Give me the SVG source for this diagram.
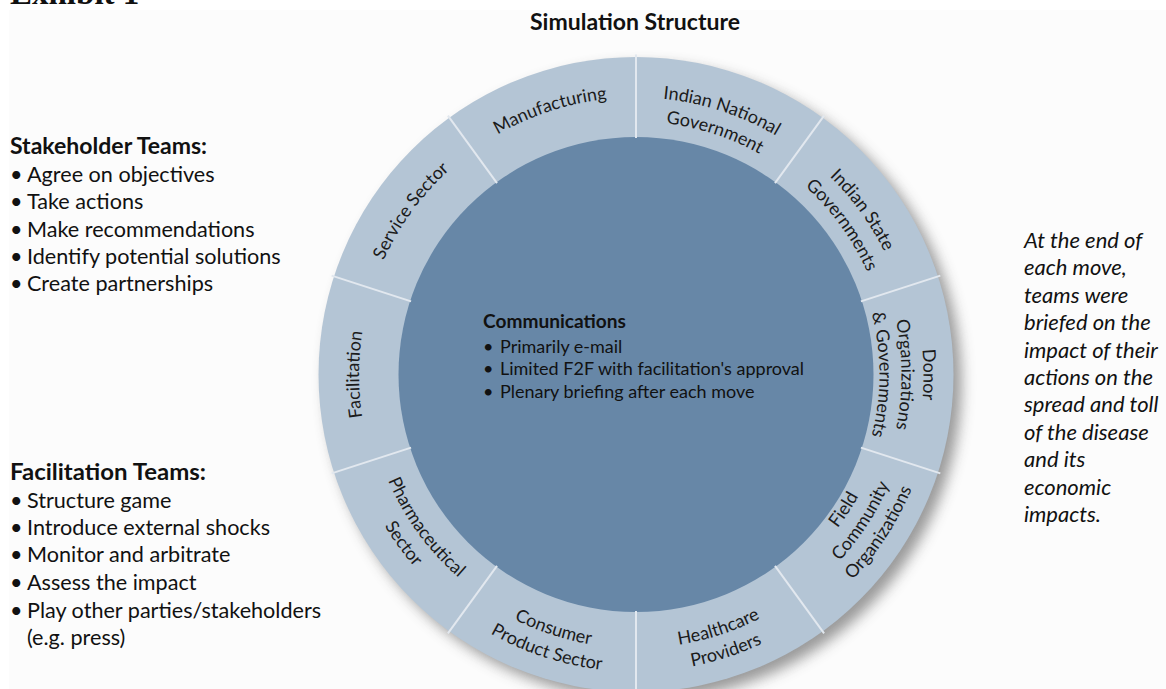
<svg xmlns="http://www.w3.org/2000/svg" width="1166" height="689" viewBox="0 0 1166 689">
  <style>
    .t { font-family: Lato, "Open Sans", "Liberation Sans", sans-serif; fill: #111; }
    .side { font-size: 21.6px; }
    .hd { font-weight: bold; }
    .ring { font-size: 18px; fill: #1b1b1b; }
    .ctr { font-size: 18px; }
    .note { font-style: italic; font-size: 22px; }
    .div { stroke: #e2e8ef; stroke-width: 2; }
    .mid { text-anchor: middle; }
  </style>
  <defs>
    <filter id="soft" x="-20%" y="-20%" width="140%" height="140%">
      <feGaussianBlur stdDeviation="7"/>
    </filter>
    <!-- arcs over the top of the wheel, centred on (0,0): text sits outside the baseline -->
    <path id="up277" d="M -260.3 -94.7 A 277 277 0 0 1 260.3 -94.7"/>
    <path id="up253" d="M -237.7 -86.5 A 253 253 0 0 1 237.7 -86.5"/>
    <path id="up287" d="M -270.2 -98.3 A 287.5 287.5 0 0 1 270.2 -98.3"/>
    <path id="up265" d="M -249.5 -90.8 A 265.5 265.5 0 0 1 249.5 -90.8"/>
    <path id="up243" d="M -228.8 -83.3 A 243.5 243.5 0 0 1 228.8 -83.3"/>
    <!-- arcs under the bottom of the wheel: text faces the centre -->
    <path id="dn269" d="M -253.3 92.2 A 269.5 269.5 0 0 0 253.3 92.2"/>
    <path id="dn293" d="M -275.8 100.4 A 293.5 293.5 0 0 0 275.8 100.4"/>
    <path id="dn273" d="M -257.1 93.6 A 273.6 273.6 0 0 0 257.1 93.6"/>
    <path id="dn297" d="M -279.3 101.6 A 297.2 297.2 0 0 0 279.3 101.6"/>
    <path id="dn253" d="M -238.2 86.7 A 253.5 253.5 0 0 0 238.2 86.7"/>
    <path id="dn276" d="M -259.4 94.4 A 276 276 0 0 0 259.4 94.4"/>
    <path id="dn298" d="M -280.5 102.1 A 298.5 298.5 0 0 0 280.5 102.1"/>
    <line id="spoke" x1="0" y1="-236.5" x2="0" y2="-320"/>
  </defs>

  <rect width="1166" height="689" fill="#ffffff"/>
  <rect x="9" y="10" width="1157" height="679" fill="#fcfcfc"/>

  <text class="hd" x="10" y="4" style="font-family:'Liberation Serif',serif;font-size:33px;fill:#111">Exhibit 1</text>

  <text class="t hd mid" x="635" y="30" style="font-size:23px" textLength="210" lengthAdjust="spacingAndGlyphs">Simulation Structure</text>

  <!-- stakeholder list -->
  <g id="stakeholder-teams" class="t side">
    <text class="hd" x="10" y="154" style="font-size:23px" textLength="197" lengthAdjust="spacingAndGlyphs">Stakeholder Teams:</text>
    <text x="10" y="182">•</text><text x="27" y="182">Agree on objectives</text>
    <text x="10" y="209">•</text><text x="27" y="209">Take actions</text>
    <text x="10" y="236.5">•</text><text x="27" y="236.5">Make recommendations</text>
    <text x="10" y="264">•</text><text x="27" y="264">Identify potential solutions</text>
    <text x="10" y="291">•</text><text x="27" y="291">Create partnerships</text>
  </g>

  <!-- facilitation list -->
  <g id="facilitation-teams" class="t side">
    <text class="hd" x="10" y="480" style="font-size:23px" textLength="196" lengthAdjust="spacingAndGlyphs">Facilitation Teams:</text>
    <text x="10" y="507.7">•</text><text x="27" y="507.7">Structure game</text>
    <text x="10" y="535">•</text><text x="27" y="535">Introduce external shocks</text>
    <text x="10" y="562.3">•</text><text x="27" y="562.3">Monitor and arbitrate</text>
    <text x="10" y="590">•</text><text x="27" y="590">Assess the impact</text>
    <text x="10" y="617.5">•</text><text x="27" y="617.5">Play other parties/stakeholders</text>
    <text x="27" y="644.5">(e.g. press)</text>
  </g>

  <!-- side note -->
  <g id="move-note" class="t note">
    <text x="1024" y="248">At the end of</text>
    <text x="1024" y="275.4">each move,</text>
    <text x="1024" y="302.8">teams were</text>
    <text x="1024" y="330.2">briefed on the</text>
    <text x="1024" y="357.6">impact of their</text>
    <text x="1024" y="385">actions on the</text>
    <text x="1024" y="412.4">spread and toll</text>
    <text x="1024" y="439.8">of the disease</text>
    <text x="1024" y="467.2">and its</text>
    <text x="1024" y="494.6">economic</text>
    <text x="1024" y="522">impacts.</text>
  </g>

  <!-- wheel -->
  <g id="wheel" transform="translate(636 374.5)">
    <circle cx="8" cy="8" r="317.5" fill="#4a4a4a" opacity="0.55" filter="url(#soft)"/>
    <circle id="outer-ring" r="317.5" fill="#b4c5d5"/>
    <circle id="communications-core" r="237.5" fill="#6787a7"/>

    <g id="dividers" class="div">
      <use href="#spoke"/>
      <use href="#spoke" transform="rotate(36)"/>
      <use href="#spoke" transform="rotate(72)"/>
      <use href="#spoke" transform="rotate(108)"/>
      <use href="#spoke" transform="rotate(144)"/>
      <use href="#spoke" transform="rotate(180)"/>
      <use href="#spoke" transform="rotate(216)"/>
      <use href="#spoke" transform="rotate(252)"/>
      <use href="#spoke" transform="rotate(288)"/>
      <use href="#spoke" transform="rotate(324)"/>
    </g>

    <g id="seg-manufacturing" class="t ring" transform="rotate(-18)">
      <text class="mid"><textPath href="#up277" startOffset="50%">Manufacturing</textPath></text>
    </g>
    <g id="seg-national-government" class="t ring" transform="rotate(18)">
      <text class="mid"><textPath href="#up277" startOffset="50%">Indian National</textPath></text>
      <text class="mid"><textPath href="#up253" startOffset="50%">Government</textPath></text>
    </g>
    <g id="seg-state-governments" class="t ring" transform="rotate(54)">
      <text class="mid"><textPath href="#up277" startOffset="50%">Indian State</textPath></text>
      <text class="mid"><textPath href="#up253" startOffset="50%">Governments</textPath></text>
    </g>
    <g id="seg-donors" class="t ring" transform="rotate(90)">
      <text class="mid"><textPath href="#up287" startOffset="50%">Donor</textPath></text>
      <text class="mid"><textPath href="#up265" startOffset="50%">Organizations</textPath></text>
      <text class="mid"><textPath href="#up243" startOffset="50%">&amp; Governments</textPath></text>
    </g>
    <g id="seg-field-community" class="t ring" transform="rotate(-57)">
      <text class="mid"><textPath href="#dn253" startOffset="50%">Field</textPath></text>
      <text class="mid"><textPath href="#dn276" startOffset="50%">Community</textPath></text>
      <text class="mid"><textPath href="#dn298" startOffset="50%">Organizations</textPath></text>
    </g>
    <g id="seg-healthcare" class="t ring" transform="rotate(-18)">
      <text class="mid"><textPath href="#dn273" startOffset="50%">Healthcare</textPath></text>
      <text class="mid"><textPath href="#dn297" startOffset="50%">Providers</textPath></text>
    </g>
    <g id="seg-consumer-product" class="t ring" transform="rotate(18)">
      <text class="mid"><textPath href="#dn273" startOffset="50%">Consumer</textPath></text>
      <text class="mid"><textPath href="#dn297" startOffset="50%">Product Sector</textPath></text>
    </g>
    <g id="seg-pharmaceutical" class="t ring" transform="rotate(54)">
      <text class="mid"><textPath href="#dn269" startOffset="50%">Pharmaceutical</textPath></text>
      <text class="mid"><textPath href="#dn293" startOffset="50%">Sector</textPath></text>
    </g>
    <g id="seg-facilitation" class="t ring" transform="rotate(-90)">
      <text class="mid"><textPath href="#up277" startOffset="50%">Facilitation</textPath></text>
    </g>
    <g id="seg-service" class="t ring" transform="rotate(-54)">
      <text class="mid"><textPath href="#up277" startOffset="50%">Service Sector</textPath></text>
    </g>
  </g>

  <!-- communications notes in the core -->
  <g id="communications" class="t ctr">
    <text class="hd" x="483" y="328.3" style="font-size:19px" textLength="143" lengthAdjust="spacingAndGlyphs">Communications</text>
    <text x="483" y="352.5">•</text><text x="500" y="352.5">Primarily e-mail</text>
    <text x="483" y="375">•</text><text x="500" y="375">Limited F2F with facilitation's approval</text>
    <text x="483" y="397.5">•</text><text x="500" y="397.5">Plenary briefing after each move</text>
  </g>
</svg>
